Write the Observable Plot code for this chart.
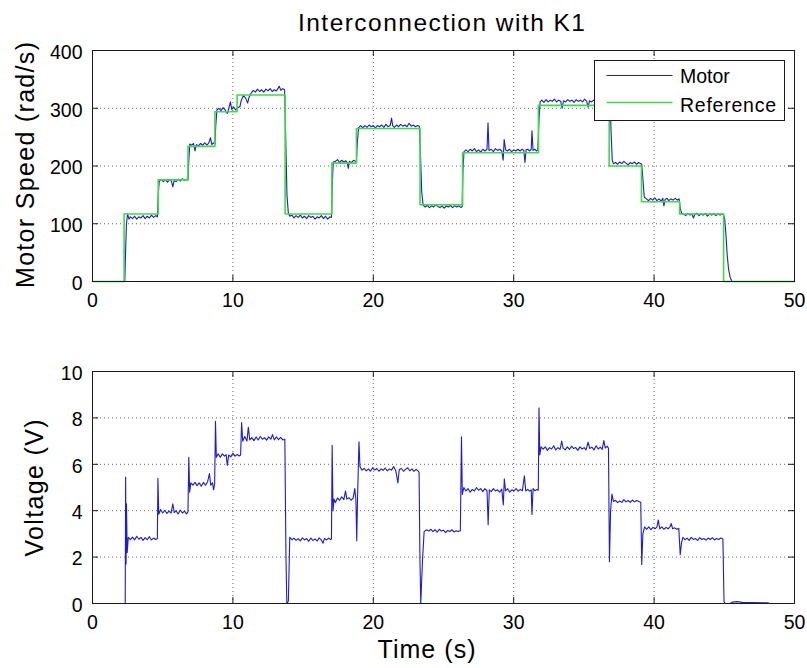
<!DOCTYPE html>
<html><head><meta charset="utf-8">
<script src="https://cdn.jsdelivr.net/npm/d3@7"></script>
<script src="https://cdn.jsdelivr.net/npm/@observablehq/plot@0.6"></script>
<style>
html,body{margin:0;padding:0;background:#fff;}
#wrap{position:relative;width:807px;height:668px;overflow:hidden;background:#fff;}
#wrap > svg{position:absolute;left:0;}
</style></head><body><div id="wrap"></div>
<script>
// ---------- data ----------
const titleText = "Interconnection with K1";
const speedLabel = "Motor Speed (rad/s)";
const voltLabel = "Voltage (V)";
const timeLabel = "Time (s)";
const seriesNames = ["Motor", "Reference"];

const timeTicks = [0, 10, 20, 30, 40, 50];
const speedTicks = [0, 100, 200, 300, 400];
const voltTicks = [0, 2, 4, 6, 8, 10];

// [time (s), speed (rad/s)]
const motorSpeed = [
[0,0],[2.3,0],[2.36,55],[2.42,100],[2.5,117],[2.6,108],[2.7,112],
[2.85,109],[3.0,113],[3.15,108],[3.3,112],[3.45,110],[3.6,114],[3.75,109],[3.9,113],[4.05,110],[4.2,115],[4.35,111],[4.5,114],[4.62,112],
[4.68,150],[4.75,173],
[4.9,177],[5.05,173],[5.2,176],[5.35,172],[5.5,177],[5.62,174],[5.72,164],[5.82,175],[5.95,173],[6.1,177],[6.25,174],[6.4,178],[6.55,175],[6.7,177],[6.8,176],
[6.86,210],[6.93,238],
[7.05,236],[7.2,239],[7.3,226],[7.4,237],[7.55,235],[7.7,239],[7.85,236],[8.0,240],[8.15,236],[8.3,241],[8.4,249],[8.5,237],[8.62,240],[8.72,238],
[8.78,270],[8.86,297],
[9.0,300],[9.15,296],[9.3,301],[9.45,297],[9.6,291],[9.7,299],[9.82,311],[9.92,298],[10.05,302],[10.2,297],[10.35,301],[10.5,303],
[10.6,314],[10.75,322],[10.9,318],[11.05,309],[11.15,319],[11.3,326],[11.45,331],
[11.6,328],[11.75,333],[11.9,329],[12.05,332],[12.2,328],[12.35,333],[12.5,330],[12.65,334],[12.8,329],[12.95,332],[13.1,330],[13.2,334],[13.3,338],[13.42,331],[13.55,334],[13.68,332],
[13.76,250],[13.85,150],[13.95,118],[14.05,113],
[14.2,115],[14.35,110],[14.5,114],[14.65,111],[14.8,115],[14.95,110],[15.1,113],[15.25,109],[15.4,114],[15.55,111],[15.7,113],[15.85,108],[16.0,112],[16.15,110],[16.3,114],[16.45,109],[16.6,113],[16.75,108],[16.9,112],[17.02,111],
[17.08,170],[17.15,207],
[17.3,208],[17.45,211],[17.6,206],[17.75,210],[17.9,207],[18.05,209],[18.15,205],[18.22,196],[18.3,208],[18.45,206],[18.6,210],[18.72,208],[18.8,209],
[18.86,240],[18.95,266],
[19.1,270],[19.25,266],[19.4,270],[19.55,267],[19.7,271],[19.85,268],[20.0,270],[20.15,266],[20.3,270],[20.45,268],[20.6,271],[20.75,267],[20.9,272],[21.05,268],[21.2,270],[21.3,283],[21.38,270],[21.5,267],[21.65,271],[21.8,268],[21.95,272],[22.1,269],[22.25,271],[22.4,268],[22.55,274],[22.7,269],[22.85,271],[23.0,268],[23.15,270],[23.28,269],
[23.36,220],[23.45,155],[23.55,132],
[23.7,129],[23.85,132],[24.0,128],[24.15,131],[24.3,129],[24.45,133],[24.6,130],[24.75,128],[24.9,131],[25.05,127],[25.2,131],[25.35,129],[25.5,132],[25.65,128],[25.8,131],[25.95,129],[26.1,131],[26.25,128],[26.33,130],
[26.38,190],[26.46,225],
[26.6,228],[26.75,225],[26.9,229],[27.05,226],[27.2,230],[27.35,225],[27.5,228],[27.65,224],[27.8,229],[27.95,226],[28.1,229],[28.17,275],[28.24,227],[28.4,229],[28.55,225],[28.7,230],[28.85,227],[29.0,229],[29.15,226],[29.25,210],[29.32,246],[29.42,228],[29.55,226],[29.7,229],[29.85,225],[30.0,228],[30.15,226],[30.3,229],[30.45,226],[30.6,229],[30.72,227],[30.8,206],[30.88,228],[31.0,229],[31.12,226],[31.25,229],[31.3,261],[31.38,227],[31.5,229],[31.62,226],[31.72,228],
[31.8,280],[31.88,311],
[32.0,314],[32.15,310],[32.3,315],[32.45,311],[32.6,314],[32.75,312],[32.9,316],[33.05,311],[33.2,314],[33.35,312],[33.45,300],[33.55,313],[33.7,311],[33.85,315],[34.0,312],[34.15,314],[34.3,310],[34.45,315],[34.6,312],[34.75,314],[34.9,311],[35.05,316],[35.2,312],[35.3,302],[35.4,313],[35.55,311],[35.7,314],[35.85,312],[36.0,314],[36.15,311],[36.3,313],[36.45,310],[36.6,313],[36.75,312],
[36.88,300],[36.95,250],[37.02,210],[37.1,204],
[37.25,206],[37.4,203],[37.55,207],[37.7,204],[37.85,208],[38.0,205],[38.15,202],[38.3,206],[38.45,204],[38.6,207],[38.75,203],[38.9,206],[39.05,204],[39.12,203],
[39.2,178],[39.3,146],
[39.45,143],[39.6,140],[39.75,144],[39.9,141],[40.05,145],[40.2,140],[40.35,143],[40.5,139],[40.62,144],[40.7,131],[40.78,142],[40.92,144],[41.05,140],[41.2,143],[41.35,141],[41.5,144],[41.65,141],[41.78,143],
[41.86,127],[41.96,118],
[42.1,117],[42.25,114],[42.4,118],[42.55,115],[42.7,117],[42.8,110],[42.9,116],[43.05,118],[43.2,114],[43.35,117],[43.5,115],[43.65,118],[43.8,113],[43.95,117],[44.1,115],[44.25,118],[44.4,114],[44.55,117],[44.7,115],[44.85,117],[44.95,116],
[45.03,108],[45.12,80],[45.2,48],[45.3,22],[45.42,7],[45.55,0],[50,0]
];

// [time (s), reference speed (rad/s)] — step signal, held until next entry
const refSpeed = [
[0,0],[2.25,117],[4.68,176],[6.8,234],[8.72,294],[10.3,323],[13.72,117],[17.05,205],[18.8,265],
[23.33,133],[26.36,223],[31.76,305],[36.8,200],[39.1,138],[41.82,117],[44.95,0],[50,0]
];

// [time (s), voltage (V)]
const voltage = [
[0,0],[2.33,0],[2.36,5.45],[2.39,1.7],[2.42,4.3],[2.47,2.2],[2.55,2.85],[2.7,2.75],
[2.85,2.86],[3.0,2.74],[3.15,2.9],[3.3,2.77],[3.45,2.85],[3.6,2.72],[3.75,2.84],[3.9,2.75],[4.05,2.88],[4.2,2.74],[4.35,2.82],[4.5,2.76],[4.62,2.8],
[4.66,5.4],[4.72,3.85],[4.85,4.05],
[5.0,3.9],[5.15,4.02],[5.3,3.88],[5.45,3.98],[5.6,3.9],[5.72,4.3],[5.82,3.92],[5.95,4.0],[6.1,3.86],[6.25,4.03],[6.4,3.9],[6.55,3.98],[6.7,3.86],[6.8,3.95],
[6.86,6.3],[6.92,4.8],[7.0,5.2],
[7.15,5.1],[7.3,5.22],[7.45,5.08],[7.6,5.2],[7.75,5.05],[7.9,5.22],[8.05,5.1],[8.2,5.25],[8.33,5.6],[8.42,5.1],[8.55,5.2],[8.62,4.9],[8.7,5.15],
[8.76,7.85],[8.82,6.3],[8.95,6.45],
[9.1,6.3],[9.25,6.45],[9.4,6.35],[9.52,6.42],[9.6,5.95],[9.7,6.4],[9.85,6.32],[10.0,6.48],[10.15,6.35],[10.3,6.42],[10.45,6.36],[10.55,6.4],
[10.62,7.8],[10.7,7.0],[10.85,7.2],[11.0,7.0],[11.1,7.6],[11.2,7.05],
[11.35,7.15],[11.5,7.02],[11.65,7.18],[11.8,7.05],[11.95,7.2],[12.1,7.08],[12.25,7.15],[12.4,7.04],[12.55,7.18],[12.7,7.08],[12.82,7.28],[12.95,7.05],[13.1,7.18],[13.25,7.06],[13.4,7.16],[13.55,7.05],[13.7,7.08],
[13.78,2.0],[13.84,0],[13.95,0.1],[14.05,2.85],[14.2,2.75],
[14.35,2.82],[14.5,2.72],[14.65,2.8],[14.8,2.7],[14.95,2.83],[15.1,2.74],[15.25,2.8],[15.4,2.68],[15.55,2.82],[15.7,2.72],[15.85,2.78],[16.0,2.7],[16.15,2.83],[16.3,2.74],[16.42,2.6],[16.52,2.8],[16.67,2.74],[16.82,2.82],[16.95,2.76],[17.02,2.78],
[17.07,6.82],[17.13,4.0],[17.2,4.5],[17.3,4.35],
[17.45,4.55],[17.6,4.45],[17.75,4.6],[17.9,4.48],[18.02,4.85],[18.12,4.5],[18.27,4.56],[18.42,4.45],[18.57,4.55],[18.68,4.95],[18.76,4.5],
[18.82,2.7],[18.88,4.6],[18.98,6.97],[19.05,5.9],[19.2,5.75],
[19.35,5.82],[19.5,5.72],[19.65,5.8],[19.8,5.7],[19.95,5.85],[20.1,5.75],[20.25,5.82],[20.4,5.7],[20.55,5.8],[20.7,5.74],[20.85,5.84],[21.0,5.72],[21.15,5.8],[21.3,5.75],[21.45,5.9],[21.6,5.72],[21.75,5.2],[21.85,5.78],[22.0,5.82],[22.15,5.7],[22.3,5.78],[22.45,5.85],[22.6,5.72],[22.75,5.8],[22.9,5.7],[23.05,5.78],[23.18,5.72],[23.26,5.65],
[23.32,2.0],[23.38,0],[23.5,1.8],[23.62,3.1],[23.8,3.18],
[23.95,3.12],[24.1,3.2],[24.25,3.1],[24.4,3.18],[24.55,3.08],[24.7,3.2],[24.85,3.12],[25.0,3.16],[25.15,3.05],[25.3,3.15],[25.45,3.1],[25.6,3.18],[25.75,3.08],[25.9,3.14],[26.05,3.1],[26.2,3.14],
[26.28,7.18],[26.34,4.7],[26.45,5.0],
[26.6,4.85],[26.75,4.95],[26.9,4.8],[27.05,4.92],[27.2,4.85],[27.35,5.0],[27.5,4.88],[27.65,4.95],[27.8,4.82],[27.95,4.95],[28.1,4.86],[28.18,3.4],[28.26,4.9],[28.4,4.82],[28.55,4.95],[28.7,4.85],[28.85,4.9],[29.0,4.8],[29.15,4.93],[29.26,4.25],[29.33,5.37],[29.42,4.85],[29.57,4.95],[29.72,4.8],[29.87,4.9],[30.02,4.85],[30.17,4.95],[30.32,4.84],[30.47,4.92],[30.62,4.86],[30.76,5.5],[30.86,4.85],[31.0,4.92],[31.14,4.84],[31.25,4.9],[31.3,3.84],[31.38,4.95],[31.52,4.86],[31.65,4.92],[31.75,4.88],
[31.8,8.43],[31.86,6.4],[31.95,6.75],
[32.1,6.65],[32.25,6.75],[32.4,6.6],[32.55,6.72],[32.7,6.66],[32.85,6.8],[33.0,6.62],[33.15,6.72],[33.3,6.64],[33.42,7.0],[33.52,6.7],[33.67,6.62],[33.82,6.75],[33.97,6.64],[34.12,6.78],[34.27,6.68],[34.42,6.72],[34.57,6.6],[34.72,6.75],[34.87,6.66],[35.02,6.72],[35.15,6.62],[35.3,6.95],[35.42,6.68],[35.57,6.74],[35.72,6.62],[35.87,6.8],[36.02,6.66],[36.17,6.74],[36.3,6.64],[36.42,7.02],[36.52,6.7],[36.65,6.78],[36.75,6.7],
[36.82,1.8],[36.9,4.0],[37.0,4.72],[37.1,4.4],
[37.25,4.45],[37.4,4.35],[37.55,4.42],[37.7,4.36],[37.85,4.48],[38.0,4.38],[38.15,4.44],[38.3,4.36],[38.45,4.46],[38.6,4.38],[38.75,4.44],[38.9,4.4],[39.05,4.36],
[39.12,1.68],[39.2,3.0],[39.32,3.3],
[39.47,3.2],[39.62,3.3],[39.77,3.18],[39.92,3.28],[40.07,3.22],[40.2,3.3],[40.3,3.6],[40.4,3.22],[40.55,3.3],[40.7,3.2],[40.85,3.28],[41.0,3.22],[41.15,3.32],[41.22,3.45],[41.32,3.22],[41.47,3.26],[41.62,3.2],[41.76,3.24],
[41.86,2.1],[41.95,2.6],[42.05,2.85],
[42.2,2.75],[42.35,2.82],[42.5,2.72],[42.65,2.85],[42.8,2.76],[42.95,2.8],[43.1,2.72],[43.25,2.84],[43.4,2.76],[43.55,2.8],[43.7,2.73],[43.85,2.82],[44.0,2.76],[44.15,2.84],[44.3,2.74],[44.45,2.8],[44.6,2.76],[44.75,2.82],[44.9,2.78],
[44.98,0.1],[45.05,0],[45.4,0],[45.6,0.06],[45.9,0.08],[46.3,0.05],[47.0,0.04],[48.1,0.03],[48.2,0]
];

// ---------- styling ----------
const BLUE = "#1c1cd2", GREEN = "#3fdc3f", INK = "#1a1a1a";
const FONT = "'Liberation Sans', Arial, Helvetica, sans-serif";
const W = 807, ML = 92, MR = 13, MT = 10, MB = 40;
const TICK = 6;

function panel({height, yDomain, yTicks, lines, top}) {
  const PH = height - MT - MB, PW = W - ML - MR;
  const inner = a => a.slice(1, -1);
  const xIn = inner(timeTicks), yIn = inner(yTicks);
  const grid = {stroke: "#000", strokeOpacity: 0.6, strokeWidth: 1, strokeDasharray: "1,3"};
  const svg = Plot.plot({
    width: W, height, marginLeft: ML, marginRight: MR, marginTop: MT, marginBottom: MB,
    x: {domain: [0, 50]}, y: {domain: yDomain},
    style: {fontFamily: FONT, fontSize: "19.5px", color: "#000", background: "transparent", overflow: "visible"},
    marks: [
      Plot.ruleX(xIn, {x: d => d, ...grid}),
      Plot.ruleY(yIn, {y: d => d, ...grid}),
      ...lines,
      Plot.tickX(xIn, {x: d => d, insetTop: PH - TICK, stroke: INK}),
      Plot.tickX(xIn, {x: d => d, insetBottom: PH - TICK, stroke: INK}),
      Plot.tickY(yIn, {y: d => d, insetRight: PW - TICK, stroke: INK}),
      Plot.tickY(yIn, {y: d => d, insetLeft: PW - TICK, stroke: INK}),
      Plot.frame({stroke: INK, strokeWidth: 1}),
      Plot.axisX(timeTicks, {tickSize: 0, tickPadding: 12, fontSize: 19.5, label: null, tickFormat: d => String(d)}),
      Plot.axisY(yTicks, {tickSize: 0, tickPadding: 10, dy: 2, fontSize: 19.5, label: null, tickFormat: d => String(d)})
    ]
  });
  svg.style.top = top + "px";
  svg.style.position = "absolute";
  return svg;
}

const wrap = document.getElementById("wrap");

wrap.appendChild(panel({
  height: 281, top: 40, yDomain: [0, 400], yTicks: speedTicks,
  lines: [
    Plot.line(motorSpeed, {x: d => d[0], y: d => d[1], stroke: BLUE, strokeWidth: 1.1}),
    Plot.line(refSpeed, {x: d => d[0], y: d => d[1], curve: "step-after", stroke: GREEN, strokeWidth: 1.6})
  ]
}));

wrap.appendChild(panel({
  height: 282, top: 361, yDomain: [0, 10], yTicks: voltTicks,
  lines: [
    Plot.line(voltage, {x: d => d[0], y: d => d[1], stroke: BLUE, strokeWidth: 1.1})
  ]
}));

// ---------- titles, axis labels and legend (text overlay) ----------
const ns = "http://www.w3.org/2000/svg";
const ov = document.createElementNS(ns, "svg");
ov.setAttribute("width", W); ov.setAttribute("height", 668);
ov.style.position = "absolute"; ov.style.top = "0px"; ov.style.left = "0px";
ov.style.fontFamily = FONT;
function el(tag, attrs, text) {
  const e = document.createElementNS(ns, tag);
  for (const k in attrs) e.setAttribute(k, attrs[k]);
  if (text != null) e.textContent = text;
  ov.appendChild(e);
  return e;
}
el("text", {x: 441.5, y: 31, "text-anchor": "middle", "font-size": 24.5, textLength: 287, lengthAdjust: "spacing", fill: "#000"}, titleText);
el("text", {transform: "translate(34,165) rotate(-90)", "text-anchor": "middle", "font-size": 25, textLength: 246, lengthAdjust: "spacing", fill: "#000"}, speedLabel);
el("text", {transform: "translate(42.5,488) rotate(-90)", "text-anchor": "middle", "font-size": 25, textLength: 137, lengthAdjust: "spacing", fill: "#000"}, voltLabel);
el("text", {x: 426.5, y: 658, "text-anchor": "middle", "font-size": 25, textLength: 98, lengthAdjust: "spacing", fill: "#000"}, timeLabel);
// legend
el("rect", {x: 594.5, y: 60.5, width: 190, height: 60, fill: "#fff", stroke: INK, "stroke-width": 1});
el("line", {x1: 606.5, x2: 672.5, y1: 75.5, y2: 75.5, stroke: BLUE, "stroke-width": 1});
el("line", {x1: 606.5, x2: 672.5, y1: 102.5, y2: 102.5, stroke: GREEN, "stroke-width": 1.6});
el("text", {x: 680, y: 83, "font-size": 19.5, fill: "#000"}, seriesNames[0]);
el("text", {x: 680, y: 111.5, "font-size": 19.5, textLength: 96, lengthAdjust: "spacing", fill: "#000"}, seriesNames[1]);
wrap.appendChild(ov);
</script>
</body></html>
